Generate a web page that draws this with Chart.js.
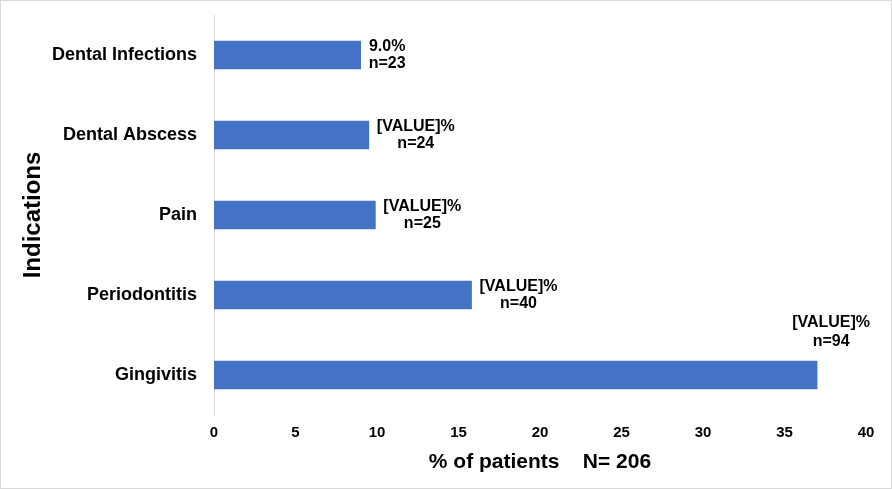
<!DOCTYPE html>
<html>
<head>
<meta charset="utf-8">
<script src="https://cdn.jsdelivr.net/npm/chart.js@4/dist/chart.umd.min.js"></script>
<style>
  html, body { margin: 0; padding: 0; background: #fff; }
  #wrap { width: 892px; height: 489px; box-sizing: border-box; border: 1px solid #d9d9d9; }
</style>
</head>
<body>
<div id="wrap"><canvas id="chart"></canvas></div>
<script>
// data (top to bottom)
const categories = ['Dental Infections', 'Dental Abscess', 'Pain', 'Periodontitis', 'Gingivitis'];
const percents   = [9.0, 9.5, 9.9, 15.8, 37.0];
const pctLabels  = ['9.0', '[VALUE]', '[VALUE]', '[VALUE]', '[VALUE]'];
const counts     = [23, 24, 25, 40, 94];
const xTicks     = [0, 5, 10, 15, 20, 25, 30, 35, 40];

const FONT = '"Liberation Sans", Arial, sans-serif';
const BLUE = '#4472C4';

// label "xx%  n=yy" next to each bar, above the bar if it won't fit
const barLabels = {
  id: 'barLabels',
  afterDatasetsDraw(chart) {
    const ctx = chart.ctx;
    const area = chart.chartArea;
    const meta = chart.getDatasetMeta(0);
    ctx.save();
    ctx.font = 'bold 16px ' + FONT;
    ctx.fillStyle = '#000';
    ctx.textAlign = 'center';
    ctx.textBaseline = 'middle';
    meta.data.forEach((bar, i) => {
      const l1 = pctLabels[i] + '%';
      const l2 = 'n=' + counts[i];
      const w = Math.max(ctx.measureText(l1).width, ctx.measureText(l2).width);
      if (bar.x + 8 + w <= area.right) {
        const cx = bar.x + 8 + w / 2;
        ctx.fillText(l1, cx, bar.y - 8);
        ctx.fillText(l2, cx, bar.y + 9);
      } else {
        const cx = bar.x + 14;
        ctx.fillText(l1, cx, bar.y - 52);
        ctx.fillText(l2, cx, bar.y - 33);
      }
    });
    ctx.restore();
  }
};

const noPad = s => { s.paddingTop = 0; s.paddingBottom = 0; };

new Chart(document.getElementById('chart'), {
  type: 'bar',
  data: {
    labels: categories,
    datasets: [{
      data: percents,
      backgroundColor: BLUE,
      barThickness: 28
    }]
  },
  options: {
    indexAxis: 'y',
    responsive: true,
    maintainAspectRatio: false,
    animation: false,
    layout: { padding: { top: 14, right: 25, bottom: 0, left: 0 } },
    plugins: { legend: { display: false }, tooltip: { enabled: false } },
    scales: {
      x: {
        min: 0, max: 40,
        afterBuildTicks: s => { s.ticks = xTicks.map(v => ({ value: v })); },
        afterFit: s => { s.height = 73; noPad(s); },
        grid: { display: false, drawTicks: false },
        border: { display: false },
        ticks: { padding: 9, color: '#000', font: { family: FONT, size: 15, weight: 'bold' } },
        title: {
          display: true,
          text: '% of patients    N= 206',
          color: '#000',
          padding: { top: 13, bottom: 13 },
          font: { family: FONT, size: 21, weight: 'bold' }
        }
      },
      y: {
        afterFit: s => { s.width = 213; noPad(s); },
        grid: { display: false, drawTicks: false },
        border: { display: true, color: '#d9d9d9', width: 1 },
        ticks: { padding: 17, color: '#000', font: { family: FONT, size: 18, weight: 'bold' } },
        title: {
          display: true,
          text: 'Indications',
          color: '#000',
          padding: { top: 18, bottom: 18 },
          font: { family: FONT, size: 24, weight: 'bold' }
        }
      }
    }
  },
  plugins: [barLabels]
});
</script>
</body>
</html>
